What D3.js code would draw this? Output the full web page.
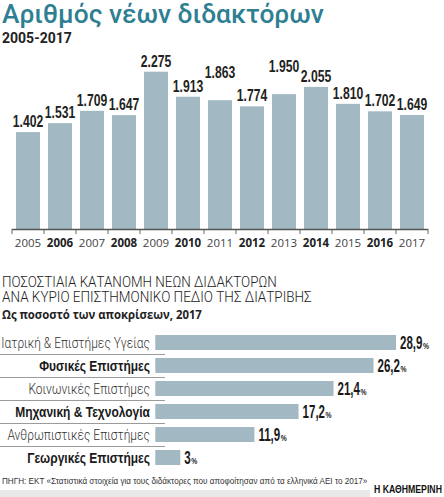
<!DOCTYPE html>
<html>
<head>
<meta charset="utf-8">
<script src="https://cdn.jsdelivr.net/npm/d3@7"></script>
<style>
  body { margin: 0; background: #fff; }
  svg { display: block; }
</style>
</head>
<body>
<script>
  // top chart: new doctorates per year
  const years = ["2005", "2006", "2007", "2008", "2009", "2010", "2011",
                 "2012", "2013", "2014", "2015", "2016", "2017"];
  const doctorates = [1402, 1531, 1709, 1647, 2275, 1913, 1863,
                      1774, 1950, 2055, 1810, 1702, 1649];

  // bottom chart: share by field, 2017
  const fields = ["Ιατρική & Επιστήμες Υγείας", "Φυσικές Επιστήμες",
                  "Κοινωνικές Επιστήμες", "Μηχανική & Τεχνολογία",
                  "Ανθρωπιστικές Επιστήμες", "Γεωργικές Επιστήμες"];
  const shares = [28.9, 26.2, 21.4, 17.2, 11.9, 3];

  // labels the designer lifted out of the way
  const liftedLabels = ["2011", "2013"];

  const w = 444;
  const h = 497;
  const barColor = "#a2b9c4";
  const sans = "'Liberation Sans', Arial, sans-serif";

  const gr = d3.formatLocale({ decimal: ",", thousands: ".", grouping: [3], currency: ["", "€"] });
  const fmtInt = gr.format(",");
  const fmtPct = gr.format(".1~f");

  // no narrow font installed: squeeze horizontally around the anchor point
  function squeeze(sel, k) {
    sel.each(function () {
      const t = d3.select(this);
      const x0 = +t.attr("x"), y0 = +t.attr("y");
      const kk = typeof k === "function" ? k.call(this) : k;
      t.attr("x", 0).attr("y", 0)
       .attr("transform", `translate(${x0},${y0}) scale(${kk},1)`);
    });
  }
  function fit(sel, width) {
    squeeze(sel, function () { return width / this.getComputedTextLength(); });
  }

  const svg = d3.select("body")
                .append("svg")
                .attr("width", w)
                .attr("height", h);

  // titles
  svg.append("text")
     .attr("x", 2).attr("y", 23.3)
     .attr("fill", "#2f7f92")
     .style("font-family", "Roboto, sans-serif")
     .style("font-weight", 500)
     .style("font-size", "25px")
     .text("Αριθμός νέων διδακτόρων")
     .call(fit, 322);

  svg.append("text")
     .attr("x", 2).attr("y", 43)
     .attr("fill", "#222")
     .style("font-family", "Roboto, sans-serif")
     .style("font-weight", 700)
     .style("font-size", "14px")
     .text("2005-2017");

  // ---- top bar chart ----
  const base = 229;
  const x = d3.scaleBand()
              .domain(years)
              .range([12, 428])
              .paddingInner(0.25)
              .paddingOuter(0.125);

  const y = d3.scaleLinear()
              .domain([0, 2275])
              .range([base, 71.7]);

  const rows = years.map((yr, i) => ({ yr, v: doctorates[i] }));

  svg.selectAll("rect.year")
     .data(rows)
     .enter()
     .append("rect")
     .attr("class", "year")
     .attr("x", d => x(d.yr))
     .attr("y", d => y(d.v))
     .attr("width", x.bandwidth())
     .attr("height", d => base - y(d.v))
     .attr("fill", barColor);

  svg.selectAll("text.val")
     .data(rows)
     .enter()
     .append("text")
     .attr("class", "val")
     .attr("x", d => x(d.yr) + x.bandwidth() / 2)
     .attr("y", d => y(d.v) - 5 - (liftedLabels.includes(d.yr) ? 17 : 0))
     .attr("text-anchor", "middle")
     .attr("fill", "#222")
     .style("font-family", sans)
     .style("font-weight", 700)
     .style("font-size", "16px")
     .text(d => fmtInt(d.v))
     .call(squeeze, 0.76);

  // axis line with ticks on band edges
  const gap = x.step() - x.bandwidth();
  const edges = years.map(yr => x(yr) - gap / 2).concat([x(years[years.length - 1]) + x.bandwidth() + gap / 2]);

  svg.append("line")
     .attr("x1", edges[0]).attr("x2", edges[edges.length - 1])
     .attr("y1", base + 0.5).attr("y2", base + 0.5)
     .attr("stroke", "#555")
     .attr("stroke-width", 1.5);

  svg.selectAll("line.tick")
     .data(edges)
     .enter()
     .append("line")
     .attr("class", "tick")
     .attr("x1", d => d).attr("x2", d => d)
     .attr("y1", base).attr("y2", base + 5)
     .attr("stroke", "#666")
     .attr("stroke-width", 1);

  svg.selectAll("text.yr")
     .data(years)
     .enter()
     .append("text")
     .attr("class", "yr")
     .attr("x", d => x(d) + x.bandwidth() / 2)
     .attr("y", 246.5)
     .attr("text-anchor", "middle")
     .attr("fill", (d, i) => i % 2 ? "#222" : "#444")
     .style("font-family", "'Open Sans', sans-serif")
     .style("font-weight", (d, i) => i % 2 ? 700 : 400)
     .style("font-size", "11.5px")
     .text(d => d);

  // ---- bottom section ----
  const head = svg.append("g")
                  .attr("fill", "#222")
                  .style("font-family", "Roboto, sans-serif")
                  .style("font-weight", 300)
                  .style("font-size", "14.5px");
  head.append("text").attr("x", 2).attr("y", 287)
      .text("ΠΟΣΟΣΤΙΑΙΑ ΚΑΤΑΝΟΜΗ ΝΕΩΝ ΔΙΔΑΚΤΟΡΩΝ")
      .call(fit, 275);
  head.append("text").attr("x", 2).attr("y", 302)
      .text("ΑΝΑ ΚΥΡΙΟ ΕΠΙΣΤΗΜΟΝΙΚΟ ΠΕΔΙΟ ΤΗΣ ΔΙΑΤΡΙΒΗΣ")
      .call(fit, 310);

  svg.append("text")
     .attr("x", 2).attr("y", 319)
     .attr("fill", "#222")
     .style("font-family", "'Open Sans', sans-serif")
     .style("font-weight", 700)
     .style("font-size", "12.5px")
     .text("Ως ποσοστό των αποκρίσεων, 2017")
     .call(fit, 200);

  const sx = d3.scaleLinear()
               .domain([0, 28.9])
               .range([155.3, 396]);

  const sy = d3.scaleBand()
               .domain(fields)
               .range([331, 469])
               .paddingInner(0.348)
               .paddingOuter(0.174);

  const frows = fields.map((f, i) => ({ f, v: shares[i], bold: i % 2 === 1 }));

  // separators under the labels
  svg.selectAll("line.sep")
     .data(frows.slice(0, -1))
     .enter()
     .append("line")
     .attr("class", "sep")
     .attr("x1", 0).attr("x2", 165)
     .attr("y1", d => sy(d.f) + sy.bandwidth() + 4.5)
     .attr("y2", d => sy(d.f) + sy.bandwidth() + 4.5)
     .attr("stroke", "#9a9a9a")
     .attr("stroke-width", 1);

  svg.selectAll("rect.field")
     .data(frows)
     .enter()
     .append("rect")
     .attr("class", "field")
     .attr("x", sx(0))
     .attr("y", d => sy(d.f))
     .attr("width", d => sx(d.v) - sx(0))
     .attr("height", sy.bandwidth())
     .attr("fill", barColor);

  svg.selectAll("text.field")
     .data(frows)
     .enter()
     .append("text")
     .attr("class", "field")
     .attr("x", 150)
     .attr("y", d => sy(d.f) + sy.bandwidth() - 2)
     .attr("text-anchor", "end")
     .attr("fill", d => d.bold ? "#1a1a1a" : "#333")
     .style("font-family", d => d.bold ? sans : "Roboto, sans-serif")
     .style("font-weight", d => d.bold ? 700 : 300)
     .style("font-size", "15px")
     .text(d => d.f)
     .call(squeeze, 0.8);

  // value + small "%" as two texts
  const numK = 0.66;
  const pctG = svg.selectAll("g.pct")
     .data(frows)
     .enter()
     .append("g")
     .attr("class", "pct")
     .attr("fill", "#1a1a1a")
     .style("font-family", sans)
     .style("font-weight", 700);

  pctG.append("text")
      .attr("class", "num")
      .attr("x", d => sx(d.v) + 4)
      .attr("y", d => sy(d.f) + sy.bandwidth() - 0.5)
      .style("font-size", "17.5px")
      .text(d => fmtPct(d.v))
      .each(function (d) { d.numW = this.getComputedTextLength() * numK; })
      .call(squeeze, numK);

  pctG.append("text")
      .attr("x", d => sx(d.v) + 4 + d.numW + 0.5)
      .attr("y", d => sy(d.f) + sy.bandwidth() - 0.5)
      .style("font-size", "9px")
      .text("%")
      .call(squeeze, 0.75);

  // footer
  svg.append("rect")
     .attr("x", 0).attr("y", 490)
     .attr("width", 370).attr("height", 7)
     .attr("fill", "#e9e9e9");

  svg.append("text")
     .attr("x", 2).attr("y", 484)
     .attr("fill", "#333")
     .style("font-family", sans)
     .style("font-size", "9.5px")
     .text("ΠΗΓΗ: ΕΚΤ «Στατιστικά στοιχεία για τους διδάκτορες που αποφοίτησαν από τα ελληνικά ΑΕΙ το 2017»")
     .call(fit, 366);

  svg.append("text")
     .attr("x", 374).attr("y", 493)
     .attr("fill", "#111")
     .style("font-family", sans)
     .style("font-weight", 700)
     .style("font-size", "11.5px")
     .text("Η ΚΑΘΗΜΕΡΙΝΗ")
     .call(fit, 68);
</script>
</body>
</html>
